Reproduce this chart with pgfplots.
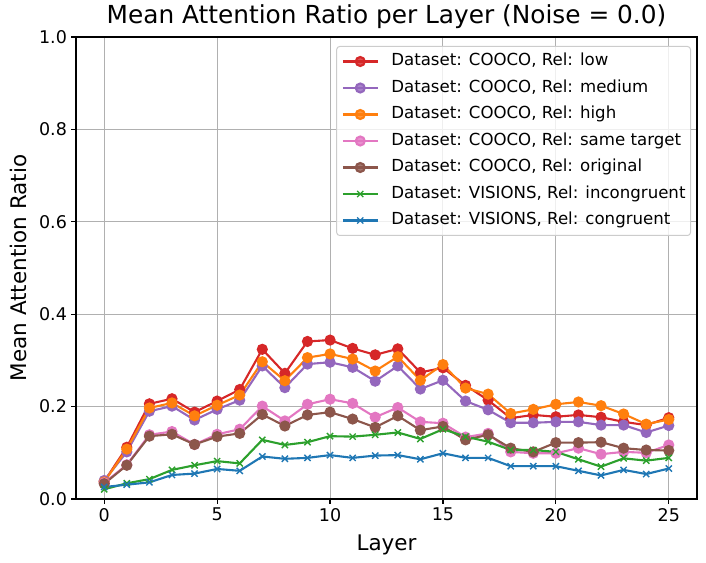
\documentclass[border=0pt]{standalone}
\usepackage{pgfplots}
\pgfplotsset{compat=1.18}
\usepackage{pgfplotstable}
\usepackage{fontspec}
\setmainfont{DejaVu Sans}

\definecolor{tabred}{HTML}{D62728}
\definecolor{tabpurple}{HTML}{9467BD}
\definecolor{taborange}{HTML}{FF7F0E}
\definecolor{tabpink}{HTML}{E377C2}
\definecolor{tabbrown}{HTML}{8C564B}
\definecolor{tabgreen}{HTML}{2CA02C}
\definecolor{tabblue}{HTML}{1F77B4}
\definecolor{gridgray}{HTML}{B0B0B0}

% layer, COOCO low/medium/high/same target/original, VISIONS incongruent/congruent
\pgfplotstableread{
x  low   medium high  same  orig  incong cong
0  0.038 0.040  0.037 0.035 0.033 0.021  0.026
1  0.112 0.102  0.108 0.074 0.073 0.034  0.031
2  0.206 0.190  0.197 0.139 0.136 0.043  0.036
3  0.217 0.201  0.208 0.146 0.140 0.063  0.052
4  0.188 0.171  0.180 0.118 0.118 0.073  0.055
5  0.212 0.194  0.203 0.140 0.135 0.082  0.065
6  0.237 0.214  0.225 0.151 0.142 0.077  0.061
7  0.324 0.288  0.297 0.201 0.183 0.128  0.092
8  0.272 0.241  0.256 0.169 0.158 0.117  0.087
9  0.341 0.292  0.306 0.205 0.182 0.123  0.089
10 0.344 0.296  0.314 0.216 0.188 0.136  0.095
11 0.326 0.285  0.303 0.207 0.173 0.135  0.089
12 0.312 0.255  0.277 0.177 0.155 0.139  0.094
13 0.325 0.288  0.308 0.198 0.180 0.144  0.095
14 0.274 0.238  0.257 0.167 0.149 0.130  0.086
15 0.284 0.257  0.291 0.164 0.157 0.151  0.099
16 0.246 0.212  0.240 0.134 0.128 0.135  0.089
17 0.214 0.193  0.227 0.142 0.139 0.124  0.089
18 0.175 0.165  0.185 0.102 0.110 0.106  0.071
19 0.182 0.165  0.194 0.099 0.102 0.106  0.071
20 0.178 0.167  0.205 0.099 0.122 0.102  0.071
21 0.182 0.167  0.210 0.110 0.122 0.086  0.061
22 0.177 0.160  0.202 0.097 0.123 0.070  0.051
23 0.167 0.160  0.184 0.102 0.110 0.088  0.063
24 0.160 0.144  0.162 0.100 0.106 0.083  0.054
25 0.176 0.159  0.172 0.117 0.105 0.089  0.066
}\attn

\begin{document}
\begin{tikzpicture}
\useasboundingbox (-76bp,-64bp) rectangle (630bp,499bp);
\begin{axis}[
    at={(0,0)}, anchor=south west,
    scale only axis,
    width=621bp, height=462bp,
    xmin=-1.25, xmax=26.25,
    ymin=0, ymax=1,
    xtick={0,5,...,25},
    ytick={0,0.2,0.4,0.6,0.8,1.0},
    /pgf/number format/assume math mode=true,
    tick pos=left,
    tick align=outside,
    major tick length=4.9bp,
    every tick/.style={black, line width=1.1bp},
    axis line style={line width=1.1bp},
    grid=major,
    major grid style={gridgray, line width=1bp},
    ticklabel style={font=\fontsize{17.5bp}{21bp}\selectfont},
    xticklabel style={anchor=north, inner sep=0pt, yshift=-4bp},
    yticklabel style={anchor=east, inner sep=0pt, xshift=-4bp,
        /pgf/number format/fixed, /pgf/number format/fixed zerofill,
        /pgf/number format/precision=1},
    title={Mean Attention Ratio per Layer (Noise = 0.0)},
    title style={font=\fontsize{24.8bp}{29bp}\selectfont,
        at={(axis description cs:0.5,1)}, anchor=base, yshift=8bp},
    xlabel={Layer},
    xlabel style={font=\fontsize{21.5bp}{26bp}\selectfont,
        at={(axis description cs:0.5,0)}, anchor=base, yshift=-51bp},
    ylabel={Mean Attention Ratio},
    ylabel style={font=\fontsize{21.5bp}{26bp}\selectfont,
        at={(axis description cs:-0.0934,0.5)}, anchor=center},
    every axis plot/.append style={line width=2.1bp},
    legend cell align=left,
    legend image code/.code={
        \draw[mark repeat=2, mark phase=2] plot coordinates {(0bp,0bp) (17.5bp,0bp) (35bp,0bp)};
    },
    legend style={
        at={(1,1)}, anchor=north east, xshift=-6bp, yshift=-9bp,
        font=\fontsize{16.6bp}{20bp}\selectfont,
        draw=gray!40, line width=1bp, fill=white, fill opacity=0.8, text opacity=1,
        rounded corners=3bp,
        inner xsep=5bp, inner ysep=7bp,
        nodes={inner sep=0pt, text height=12.5bp, text depth=3.5bp},
        row sep=10.5bp,
        /tikz/every odd column/.style={column sep=12.5bp},
    },
]
\addplot[tabred, mark=*, mark size=4.5bp] table[x=x, y=low] {\attn};
\addlegendentry{Dataset: COOCO, Rel: low}
\addplot[tabpurple, mark=*, mark size=4.5bp] table[x=x, y=medium] {\attn};
\addlegendentry{Dataset: COOCO, Rel: medium}
\addplot[taborange, mark=*, mark size=4.5bp] table[x=x, y=high] {\attn};
\addlegendentry{Dataset: COOCO, Rel: high}
\addplot[tabpink, mark=*, mark size=4.5bp] table[x=x, y=same] {\attn};
\addlegendentry{Dataset: COOCO, Rel: same target}
\addplot[tabbrown, mark=*, mark size=4.5bp] table[x=x, y=orig] {\attn};
\addlegendentry{Dataset: COOCO, Rel: original}
\addplot[tabgreen, mark=x, mark size=4.4bp, mark options={line width=1.4bp}] table[x=x, y=incong] {\attn};
\addlegendentry{Dataset: VISIONS, Rel: incongruent}
\addplot[tabblue, mark=x, mark size=4.4bp, mark options={line width=1.4bp}] table[x=x, y=cong] {\attn};
\addlegendentry{Dataset: VISIONS, Rel: congruent}
\end{axis}
\end{tikzpicture}
\end{document}
